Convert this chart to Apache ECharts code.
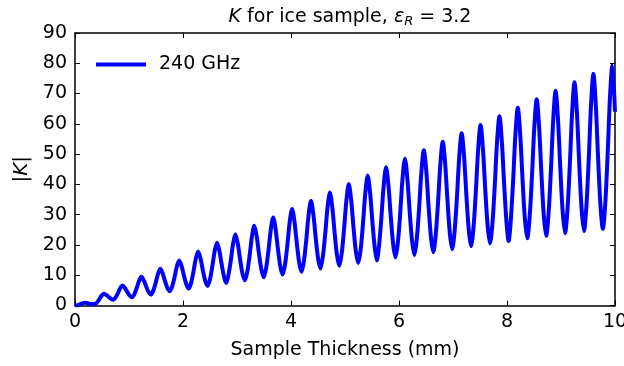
<!DOCTYPE html>
<html>
<head>
<meta charset="utf-8">
<script src="https://cdn.jsdelivr.net/npm/echarts@6/dist/echarts.min.js"></script>
<style>
  html, body { margin: 0; padding: 0; background: #fff; }
  #chart { width: 624px; height: 366px; }
</style>
</head>
<body>
<div id="chart"></div>
<script>
// |K| against sample thickness
// (one row per resonance: 3 points rising, the peak, 3 points falling, then the trough)
var thickness = [
  0,
  0.049, 0.093, 0.136, 0.18, 0.224, 0.268, 0.311, 0.355,
  0.404, 0.448, 0.491, 0.535, 0.579, 0.623, 0.666, 0.707,
  0.749, 0.793, 0.836, 0.88, 0.924, 0.968, 1.011, 1.055,
  1.099, 1.143, 1.186, 1.23, 1.274, 1.318, 1.361, 1.405,
  1.449, 1.493, 1.536, 1.58, 1.624, 1.668, 1.711, 1.755,
  1.799, 1.843, 1.886, 1.93, 1.974, 2.018, 2.061, 2.105,
  2.149, 2.193, 2.236, 2.28, 2.324, 2.368, 2.411, 2.455,
  2.499, 2.543, 2.586, 2.63, 2.674, 2.718, 2.761, 2.80,
  2.839, 2.883, 2.926, 2.97, 3.014, 3.058, 3.101, 3.145,
  3.189, 3.233, 3.276, 3.32, 3.364, 3.408, 3.451, 3.495,
  3.539, 3.583, 3.626, 3.67, 3.714, 3.758, 3.801, 3.845,
  3.889, 3.933, 3.976, 4.02, 4.064, 4.108, 4.151, 4.195,
  4.239, 4.283, 4.326, 4.37, 4.414, 4.458, 4.501, 4.545,
  4.589, 4.633, 4.676, 4.72, 4.764, 4.808, 4.851, 4.895,
  4.939, 4.983, 5.026, 5.07, 5.114, 5.158, 5.201, 5.245,
  5.289, 5.333, 5.376, 5.42, 5.464, 5.508, 5.551, 5.59,
  5.629, 5.673, 5.716, 5.76, 5.804, 5.848, 5.891, 5.935,
  5.979, 6.023, 6.066, 6.11, 6.154, 6.198, 6.241, 6.285,
  6.329, 6.373, 6.416, 6.46, 6.504, 6.548, 6.591, 6.635,
  6.679, 6.723, 6.766, 6.81, 6.854, 6.898, 6.941, 6.985,
  7.029, 7.073, 7.116, 7.16, 7.204, 7.248, 7.291, 7.335,
  7.379, 7.423, 7.466, 7.51, 7.554, 7.598, 7.641, 7.685,
  7.729, 7.773, 7.816, 7.86, 7.904, 7.948, 7.991, 8.03,
  8.069, 8.113, 8.156, 8.20, 8.244, 8.288, 8.331, 8.375,
  8.419, 8.463, 8.506, 8.55, 8.594, 8.638, 8.681, 8.725,
  8.769, 8.813, 8.856, 8.90, 8.944, 8.988, 9.031, 9.075,
  9.119, 9.163, 9.206, 9.25, 9.294, 9.338, 9.381, 9.425,
  9.469, 9.513, 9.556, 9.60, 9.644, 9.688, 9.731, 9.775,
  9.819, 9.863, 9.906, 9.95, 10.0
];
var kMag = [
  0,
  0.1, 0.4, 0.7, 0.9, 0.8, 0.6, 0.5, 0.4,
  0.9, 2.0, 3.2, 3.9, 3.5, 2.8, 2.2, 1.9,
  2.6, 4.0, 5.7, 6.6, 5.8, 4.5, 3.3, 2.7,
  3.7, 5.8, 8.1, 9.5, 8.3, 6.3, 4.5, 3.6,
  4.9, 7.4, 10.4, 12.1, 10.6, 8.0, 5.8, 4.7,
  6.2, 9.3, 12.9, 14.9, 13.0, 9.8, 7.0, 5.6,
  7.4, 11.1, 15.4, 17.8, 15.5, 11.6, 8.2, 6.5,
  8.6, 12.9, 17.9, 20.7, 18.0, 13.4, 9.4, 7.4,
  9.8, 14.6, 20.3, 23.5, 20.5, 15.1, 10.6, 8.3,
  11.0, 16.4, 22.7, 26.3, 22.9, 17.0, 11.9, 9.3,
  12.3, 18.2, 25.1, 29.1, 25.3, 18.7, 13.0, 10.2,
  13.5, 20.0, 27.6, 31.9, 27.7, 20.5, 14.2, 11.1,
  14.6, 21.7, 29.9, 34.6, 30.1, 22.3, 15.6, 12.2,
  16.0, 23.5, 32.3, 37.3, 32.5, 24.0, 16.7, 13.1,
  17.2, 25.3, 34.7, 40.1, 34.9, 25.7, 17.9, 14.0,
  18.3, 27.0, 37.1, 42.9, 37.3, 27.5, 19.1, 14.9,
  19.5, 28.8, 39.5, 45.7, 39.7, 29.3, 20.4, 15.9,
  20.8, 30.6, 42.0, 48.5, 42.1, 31.0, 21.5, 16.7,
  21.9, 32.3, 44.4, 51.3, 44.6, 32.8, 22.7, 17.6,
  23.1, 34.0, 46.8, 54.1, 47.0, 34.6, 23.9, 18.6,
  24.3, 35.8, 49.2, 56.9, 49.4, 36.4, 25.2, 19.6,
  25.6, 37.6, 51.6, 59.6, 51.8, 38.1, 26.4, 20.5,
  26.8, 39.4, 54.1, 62.5, 54.3, 39.8, 27.5, 21.3,
  27.9, 41.1, 56.5, 65.3, 56.7, 41.6, 28.7, 22.2,
  29.1, 42.9, 58.9, 68.1, 59.1, 43.3, 29.8, 23.0,
  30.2, 44.6, 61.3, 70.9, 61.5, 45.1, 31.0, 23.9,
  31.4, 46.3, 63.7, 73.7, 63.9, 46.7, 32.0, 24.6,
  32.4, 48.0, 66.1, 76.5, 66.3, 48.3, 33.0, 25.3,
  33.4, 49.6, 68.5, 79.3, 64
];
var seriesName = '240 GHz';
var xTicks = [0, 2, 4, 6, 8, 10];
var yTicks = [0, 10, 20, 30, 40, 50, 60, 70, 80, 90];

var points = thickness.map(function (t, i) { return [t, kMag[i]]; });

var font = '"DejaVu Sans", sans-serif';
var chart = echarts.init(document.getElementById('chart'), null, { renderer: 'canvas' });

// boxed frame, ticks pointing inwards on all four sides
function frameAxis(extra) {
  var base = {
    type: 'value',
    axisLine: { show: true, onZero: false, lineStyle: { color: '#000', width: 1.5 } },
    axisTick: { show: true, inside: true, length: 5, lineStyle: { color: '#000', width: 1 } },
    splitLine: { show: false },
    axisLabel: { show: false }
  };
  return Object.assign(base, extra);
}

var option = {
  animation: false,
  backgroundColor: '#fff',
  title: {
    text: '{i|K} for ice sample, {i|ε}{sub|R} = 3.2',
    left: 345,
    textAlign: 'center',
    top: 1,
    textStyle: {
      fontFamily: font, fontSize: 19, fontWeight: 'normal', color: '#000',
      rich: {
        i: { fontFamily: font, fontSize: 19, fontStyle: 'italic', color: '#000' },
        sub: { fontFamily: font, fontSize: 13, fontStyle: 'italic', color: '#000', verticalAlign: 'bottom', padding: [9, 0, 0, 0] }
      }
    }
  },
  legend: {
    data: [seriesName],
    left: 96,
    top: 55,
    padding: 0,
    itemWidth: 50,
    itemHeight: 4,
    itemGap: 10,
    icon: 'rect',
    textStyle: { fontFamily: font, fontSize: 19, color: '#000', padding: [0, 0, 0, 8] }
  },
  grid: { left: 75, right: 9, top: 33, bottom: 60.5, outerBoundsMode: 'none', containLabel: false },
  xAxis: [
    frameAxis({
      min: 0, max: 10, interval: 2, position: 'bottom',
      name: 'Sample Thickness (mm)', nameLocation: 'middle', nameGap: 35,
      nameTextStyle: { fontFamily: font, fontSize: 19, color: '#000' },
      axisLabel: {
        show: true, margin: 7, fontFamily: font, fontSize: 19, color: '#000',
        formatter: function (v) { return xTicks.indexOf(v) >= 0 ? String(v) : ''; }
      }
    }),
    frameAxis({ min: 0, max: 10, interval: 2, position: 'top' })
  ],
  yAxis: [
    frameAxis({
      min: 0, max: 90, interval: 10, position: 'left',
      name: '|{i|K}|', nameLocation: 'middle', nameGap: 43, nameRotate: 90,
      nameTextStyle: {
        fontFamily: font, fontSize: 20, color: '#000',
        rich: { i: { fontFamily: font, fontSize: 20, fontStyle: 'italic', color: '#000' } }
      },
      axisLabel: {
        show: true, margin: 8, fontFamily: font, fontSize: 19, color: '#000',
        formatter: function (v) { return yTicks.indexOf(v) >= 0 ? String(v) : ''; }
      }
    }),
    frameAxis({ min: 0, max: 90, interval: 10, position: 'right' })
  ],
  series: [
    {
      name: seriesName,
      type: 'line',
      xAxisIndex: 0,
      yAxisIndex: 0,
      data: points,
      smooth: 0.3,
      showSymbol: false,
      clip: true,
      lineStyle: { color: '#0000ff', width: 4 },
      itemStyle: { color: '#0000ff' }
    }
  ]
};
chart.setOption(option);
</script>
</body>
</html>
